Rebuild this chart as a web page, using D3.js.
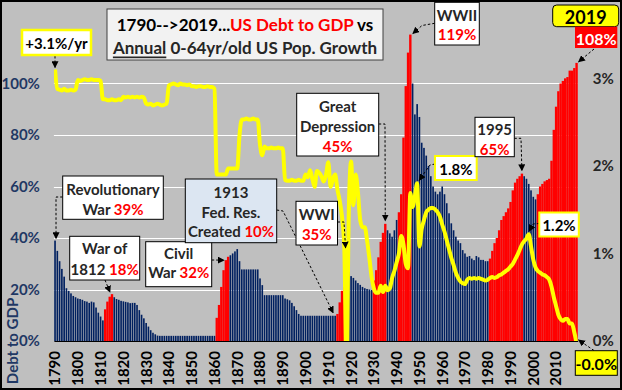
<!DOCTYPE html>
<html>
<head>
<meta charset="utf-8">
<title>US Debt to GDP vs 0-64yr Pop. Growth</title>
<style>
  body { margin: 0; background: #fff; }
  svg { display: block; font-family: Lato, "Open Sans", sans-serif; font-weight: bold; }
</style>
</head>
<body>
<svg id="chart" width="622" height="390"></svg>
<script src="https://cdnjs.cloudflare.com/ajax/libs/d3/7.8.5/d3.min.js"></script>
<script>
// ---- data ----
const firstYear = 1790;

// federal debt to GDP, % (left axis), 1790..2019
const debtToGdp = [
  39, 35, 31, 28, 25, 20.5, 19.5, 18.5, 17.5, 17,
  16.5, 16.3, 16, 15.5, 15.3, 14.8, 15.3, 15, 13, 11,
  9.5, 8, 12.3, 15.3, 17.2, 18.2, 17, 16.3, 16, 15.6,
  15.4, 15.2, 15, 14.7, 14.8, 14.8, 14, 12, 10.2, 8.8,
  7, 5.6, 4.2, 3.2, 2.6, 2.1, 2, 2, 2, 2,
  2, 2, 2, 2, 2, 2, 2, 2, 2, 2,
  2, 2, 2, 2, 2, 2, 2, 2, 2, 2,
  2, 9, 14, 21, 27.5, 31.4, 32.7, 33.3, 34, 34.8,
  35.7, 31, 27.8, 27.8, 27.8, 27.8, 27.8, 27.8, 27.8, 27.8,
  24.3, 21.7, 17.8, 17.8, 17.8, 17.8, 17.8, 17.8, 17.8, 17.8,
  17.8, 16.5, 16.2, 15.8, 14.8, 13.5, 12, 10.5, 9.8, 9.8,
  9.8, 9.8, 9.8, 9.8, 9.8, 9.8, 9.8, 9.8, 9.8, 9.8,
  9.8, 9.8, 9.8, 9.8, 10.5, 15, 19.5, 25, 35, 28.8,
  25.2, 24.5, 23.5, 22.5, 21.8, 21, 20.5, 20.2, 20, 19.8,
  23.5, 27.5, 32.5, 38.5, 42, 45.5, 43, 41.8, 40.5, 43,
  47, 50, 57, 79, 99, 112, 119, 100, 88, 92,
  87, 77, 75, 72, 68, 64, 60, 58, 57, 58,
  60, 57, 53.5, 49.6, 45.7, 43, 40.5, 39, 38, 35.3,
  34, 32.7, 33, 32, 31.4, 33, 32.5, 31.5, 31.5, 31,
  31, 32, 35, 38, 40, 43, 47, 48.5, 50, 51.5,
  54, 58.5, 61.5, 63, 64, 65, 64, 63, 61, 58.5,
  56, 55, 57, 60, 61, 62, 62.5, 63, 70, 82,
  91, 97, 100, 101, 102, 102.5, 105, 105, 106, 108
];

// annual growth of the 0-64yr/old US population, % (right axis), 1790..2019
const popGrowth = [
  3.10, 2.88, 2.87, 2.86, 2.88, 2.86, 2.86, 2.87, 2.86, 2.87,
  2.98, 2.97, 2.98, 2.99, 2.98, 2.98, 2.99, 2.98, 2.98, 2.98,
  2.97, 2.76, 2.76, 2.75, 2.75, 2.76, 2.75, 2.75, 2.76, 2.75,
  2.79, 2.78, 2.79, 2.78, 2.79, 2.78, 2.79, 2.78, 2.79, 2.78,
  2.71, 2.70, 2.71, 2.69, 2.70, 2.71, 2.70, 2.69, 2.70, 2.71,
  2.92, 2.93, 2.94, 2.93, 2.92, 2.94, 2.93, 2.93, 2.92, 2.93,
  2.91, 2.91, 2.90, 2.91, 2.91, 2.90, 2.90, 2.91, 2.90, 2.90,
  2.88, 1.90, 1.90, 1.90, 1.90, 1.90, 1.97, 1.97, 1.97, 1.97,
  1.97, 2.35, 2.53, 2.53, 2.54, 2.53, 2.53, 2.54, 2.53, 2.53,
  2.24, 2.12, 2.22, 2.20, 2.20, 2.21, 2.20, 2.20, 2.21, 2.20,
  2.20, 1.84, 1.83, 1.83, 1.84, 1.83, 1.83, 1.84, 1.83, 1.83,
  1.90, 1.87, 1.95, 1.85, 1.76, 1.94, 1.92, 1.88, 1.82, 1.90,
  2.04, 1.76, 1.85, 1.90, 1.73, 1.60, 1.42, 1.08, -0.30, 1.50,
  2.05, 1.55, 1.90, 1.70, 1.38, 1.30, 1.30, 1.15, 0.95, 0.73,
  0.60, 0.55, 0.55, 0.63, 0.56, 0.63, 0.58, 0.60, 0.72, 0.80,
  0.90, 1.00, 1.20, 1.10, 0.88, 0.83, 1.69, 1.53, 1.65, 1.80,
  1.08, 1.28, 1.38, 1.47, 1.50, 1.52, 1.52, 1.50, 1.47, 1.42,
  1.33, 1.25, 1.15, 1.05, 0.95, 0.87, 0.78, 0.72, 0.68, 0.66,
  0.65, 0.70, 0.72, 0.71, 0.72, 0.71, 0.72, 0.71, 0.70, 0.69,
  0.70, 0.72, 0.73, 0.72, 0.73, 0.75, 0.76, 0.78, 0.80, 0.82,
  0.85, 0.88, 0.93, 0.98, 1.04, 1.10, 1.14, 1.17, 1.22, 1.08,
  0.93, 0.84, 0.80, 0.78, 0.76, 0.75, 0.73, 0.70, 0.62, 0.50,
  0.40, 0.30, 0.25, 0.23, 0.25, 0.25, 0.20, 0.20, 0.10, -0.02
];

// years drawn in red (debt build-ups)
const redPeriods = [[1812, 1815], [1861, 1866], [1914, 1918], [1930, 1935],
                    [1941, 1946], [1981, 1995], [2002, 2019]];

const xTickYears = [1790, 1800, 1810, 1820, 1830, 1840, 1850, 1860, 1870, 1880, 1890,
                    1900, 1910, 1920, 1930, 1940, 1950, 1960, 1970, 1980, 1990, 2000, 2010];
const debtTicks = [0, 20, 40, 60, 80, 100];
const gridTicks = [20, 40, 60, 80, 100];
const growthTicks = [0, 1, 2, 3];

// ---- layout ----
const W = 622, H = 390;
const plot = { left: 53.9, right: 577.7, top: 32, bottom: 341 };
const NAVY = '#002060', RED = '#FF0000', YELLOW = '#FFFF00', GRAY = '#BFBFBF', INK = '#262626';

const years = debtToGdp.map((d, i) => firstYear + i);
const rows = years.map((yr, i) => ({ year: yr, debt: debtToGdp[i], pop: popGrowth[i],
  red: redPeriods.some(p => yr >= p[0] && yr <= p[1]) }));

const x = d3.scaleBand().domain(years).range([plot.left, plot.right]).paddingInner(0.28).paddingOuter(0.14);
const yL = d3.scaleLinear().domain([0, 120]).range([plot.bottom, plot.top]);
const yR = d3.scaleLinear().domain([0, 3.5]).range([plot.bottom, 34.5]);
const xc = yr => x(yr) + x.bandwidth() / 2;

const svg = d3.select('#chart');

svg.append('defs').append('marker')
    .attr('id', 'tri')
    .attr('viewBox', '0 0 10 10')
    .attr('refX', 9).attr('refY', 5)
    .attr('markerWidth', 7).attr('markerHeight', 7)
    .attr('markerUnits', 'userSpaceOnUse')
    .attr('orient', 'auto')
  .append('path').attr('d', 'M0,0L10,5L0,10Z').attr('fill', '#000');

svg.select('defs').append('clipPath').attr('id', 'plotclip')
  .append('rect')
    .attr('x', plot.left).attr('y', plot.top)
    .attr('width', plot.right - plot.left).attr('height', plot.bottom - plot.top);

// background + frame
svg.append('rect').attr('x', 1).attr('y', 1).attr('width', W - 2).attr('height', H - 2)
    .attr('fill', GRAY).attr('stroke', '#000').attr('stroke-width', 2);

// gridlines
svg.append('g').selectAll('line').data(gridTicks).join('line')
    .attr('x1', plot.left).attr('x2', plot.right)
    .attr('y1', d => Math.round(yL(d)) + 0.5).attr('y2', d => Math.round(yL(d)) + 0.5)
    .attr('stroke', '#fff').attr('stroke-width', 1);

// bars
svg.append('g').selectAll('rect').data(rows).join('rect')
    .attr('x', d => d.red ? x(d.year) - 0.35 : x(d.year))
    .attr('width', d => d.red ? x.step() + 0.1 : x.bandwidth())
    .attr('y', d => yL(d.debt))
    .attr('height', d => yL(0) - yL(d.debt))
    .attr('fill', d => d.red ? RED : NAVY);

// x axis
const xAxis = svg.append('g')
    .attr('transform', `translate(0,${plot.bottom})`)
    .call(d3.axisBottom(x).tickValues(xTickYears).tickSize(0).tickPadding(0));
xAxis.select('.domain').attr('stroke', '#000').attr('stroke-width', 1.2);
xAxis.selectAll('text')
    .attr('transform', 'rotate(-90)')
    .attr('text-anchor', 'end')
    .attr('x', -10).attr('y', 0).attr('dy', '0.36em')
    .attr('fill', '#000')
    .style('font-size', '15px').style('font-family', 'Lato, sans-serif').style('font-weight', 'bold');

// population growth line
svg.append('path')
    .datum(rows)
    .attr('clip-path', 'url(#plotclip)')
    .attr('fill', 'none')
    .attr('stroke', YELLOW)
    .attr('stroke-width', 4)
    .attr('stroke-linejoin', 'round')
    .attr('d', d3.line().x(d => xc(d.year)).y(d => yR(d.pop)).curve(d3.curveMonotoneX));

// left axis
const lAxis = svg.append('g')
    .attr('transform', `translate(${plot.left},0)`)
    .call(d3.axisLeft(yL).tickValues(debtTicks).tickFormat(d => d + '%').tickSize(0).tickPadding(14));
lAxis.select('.domain').remove();
lAxis.selectAll('text').attr('fill', '#1F3864')
    .style('font-size', '15px').style('font-family', 'Lato, sans-serif').style('font-weight', 'bold');

svg.append('text')
    .attr('transform', 'translate(18,341) rotate(-90)')
    .attr('text-anchor', 'middle')
    .attr('fill', '#1F3864')
    .style('font-size', '15px')
    .text('Debt to GDP');

// right axis
const rAxis = svg.append('g')
    .attr('transform', `translate(${plot.right},0)`)
    .call(d3.axisRight(yR).tickValues(growthTicks).tickFormat(d => d + '%').tickSize(0).tickPadding(15));
rAxis.select('.domain').remove();
rAxis.selectAll('text').attr('fill', INK)
    .style('font-size', '15px').style('font-family', 'Lato, sans-serif').style('font-weight', 'bold');

// ---- title ----
svg.append('rect').attr('x', 107).attr('y', 9).attr('width', 276).attr('height', 51)
    .attr('fill', '#F2F2F2').attr('stroke', '#404040').attr('stroke-width', 1);
const t1 = svg.append('text').attr('x', 245).attr('y', 24).attr('text-anchor', 'middle')
    .attr('dominant-baseline', 'central').style('font-size', '17px');
t1.append('tspan').attr('fill', '#000').text('1790-->2019...');
t1.append('tspan').attr('fill', RED).text('US Debt to GDP');
t1.append('tspan').attr('fill', '#000').text(' vs');
const t2 = svg.append('text').attr('x', 245).attr('y', 46.5).attr('text-anchor', 'middle')
    .attr('dominant-baseline', 'central').style('font-size', '17px').attr('fill', INK);
t2.append('tspan').style('text-decoration', 'underline').text('Annual');
t2.append('tspan').text(' 0-64yr/old US Pop. Growth');

// ---- callouts ----
const rowOf = yr => rows[yr - firstYear];
const notes = [
  { box: [22, 30, 69, 25], fill: '#fff', stroke: YELLOW, sw: 2.5, ly: [42.7],
    lines: [[['+3.1%/yr', '#000']]], path: [[55, 56]], tip: [1790, 'pop', 0, -2] },
  { box: [62.7, 176, 100.6, 43.3], ly: [189, 209],
    lines: [[['Revolutionary', INK]], [['War ', INK], ['39%', RED]]],
    path: [[62.7, 197], [56, 197]], tip: [1790, 'debt', 1, -2] },
  { box: [69.7, 236.3, 70, 43.7], ly: [248, 268.5],
    lines: [[['War of', INK]], [['1812 ', INK], ['18%', RED]]],
    path: [[105, 280]], tip: [1815, 'debt', -2, -2] },
  { box: [145.7, 241.7, 66, 45], ly: [253, 272],
    lines: [[['Civil', INK]], [['War ', INK], ['32%', RED]]],
    path: [[211.7, 260]], tip: [1865, 'debtLeft', -1, 0] },
  { box: [185.3, 179, 91.4, 63.7], fill: '#DCE6F2', ly: [191.5, 211.5, 230.5],
    lines: [[['1913', INK]], [['Fed. Res.', INK]], [['Created ', INK], ['10%', RED]]],
    path: [[276.7, 210], [283, 211]], tip: [1913, 'debt', -2, -3] },
  { box: [296, 201.3, 41.5, 43.7], ly: [214, 234],
    lines: [[['WWI', INK]], [['35%', RED]]],
    path: [[337.5, 222], [344, 222]], tip: [1918, 'debt', -1, -3] },
  { box: [296.7, 93.3, 82, 62.7], ly: [106, 126, 145.5],
    lines: [[['Great', INK]], [['Depression', INK]], [['45%', RED]]],
    path: [[378.7, 124], [385, 124]], tip: [1935, 'debt', 0, -3] },
  { box: [434.7, 2.3, 44.6, 42.7], ly: [14.5, 34],
    lines: [[['WWII', INK]], [['119%', RED]]],
    path: [[434.7, 23.3], [422, 25.5]], tip: [1946, 'debt', 2.5, -1] },
  { box: [435, 156, 41.7, 24], stroke: YELLOW, sw: 2, ly: [168.5],
    lines: [[['1.8%', '#000']]],
    path: [[435, 164], [430, 165]], tip: [1949, 'pop', 2, -3] },
  { box: [475, 117.3, 39.3, 39.4], ly: [128.5, 149],
    lines: [[['1995', INK]], [['65%', RED]]],
    path: [[514.3, 138.3], [521, 138.3]], tip: [1995, 'debt', 0, -3] },
  { box: [539.3, 212.5, 39.5, 24], stroke: YELLOW, sw: 2, ly: [224.5],
    lines: [[['1.2%', '#000']]],
    path: [[539.3, 223.5], [533, 224]], tip: [1998, 'pop', 0.5, -3] },
  { box: [552.7, 5, 66, 21.7], fill: YELLOW, stroke: '#000', sw: 1, rx: 4, ly: [16.5], fs: 18,
    lines: [[['2019', '#000']]] },
  { box: [575, 26.7, 42.3, 21.3], fill: RED, stroke: 'none', ly: [38], fs: 16,
    lines: [[['108%', '#fff']]],
    path: [[594, 49]], tip: [2019, 'debt', 2, -1] },
  { box: [575.3, 350.7, 42, 24.6], fill: YELLOW, stroke: '#000', sw: 1, ly: [362.5], fs: 16,
    lines: [[['-0.0%', '#000']]],
    path: [[594, 350.5]], tip: [2019, 'pop', 2, -1] }
];

const tipPoint = ([yr, kind, dx, dy]) => {
  const r = rowOf(yr);
  if (kind === 'pop') return [xc(yr) + dx, Math.min(yR(r.pop), plot.bottom) + dy];
  if (kind === 'debtLeft') return [x(yr) + dx, yL(r.debt) + dy];
  return [xc(yr) + dx, yL(r.debt) + dy];
};

notes.forEach(n => {
  const g = svg.append('g');
  if (n.path) {
    const pts = n.path.concat([tipPoint(n.tip)]);
    g.append('path')
        .attr('d', d3.line()(pts))
        .attr('fill', 'none')
        .attr('stroke', '#000')
        .attr('stroke-width', 1)
        .attr('stroke-dasharray', '2.5,2')
        .attr('marker-end', 'url(#tri)');
  }
  g.append('rect')
      .attr('x', n.box[0]).attr('y', n.box[1]).attr('width', n.box[2]).attr('height', n.box[3])
      .attr('rx', n.rx || 0)
      .attr('fill', n.fill || '#fff')
      .attr('stroke', n.stroke || '#000')
      .attr('stroke-width', n.sw || 1);
  n.lines.forEach((ln, i) => {
    const t = g.append('text')
        .attr('x', n.box[0] + n.box[2] / 2).attr('y', n.ly[i])
        .attr('text-anchor', 'middle').attr('dominant-baseline', 'central')
        .style('font-size', (n.fs || 15) + 'px');
    ln.forEach(([s, c]) => t.append('tspan').attr('fill', c).text(s));
  });
});
</script>
</body>
</html>
